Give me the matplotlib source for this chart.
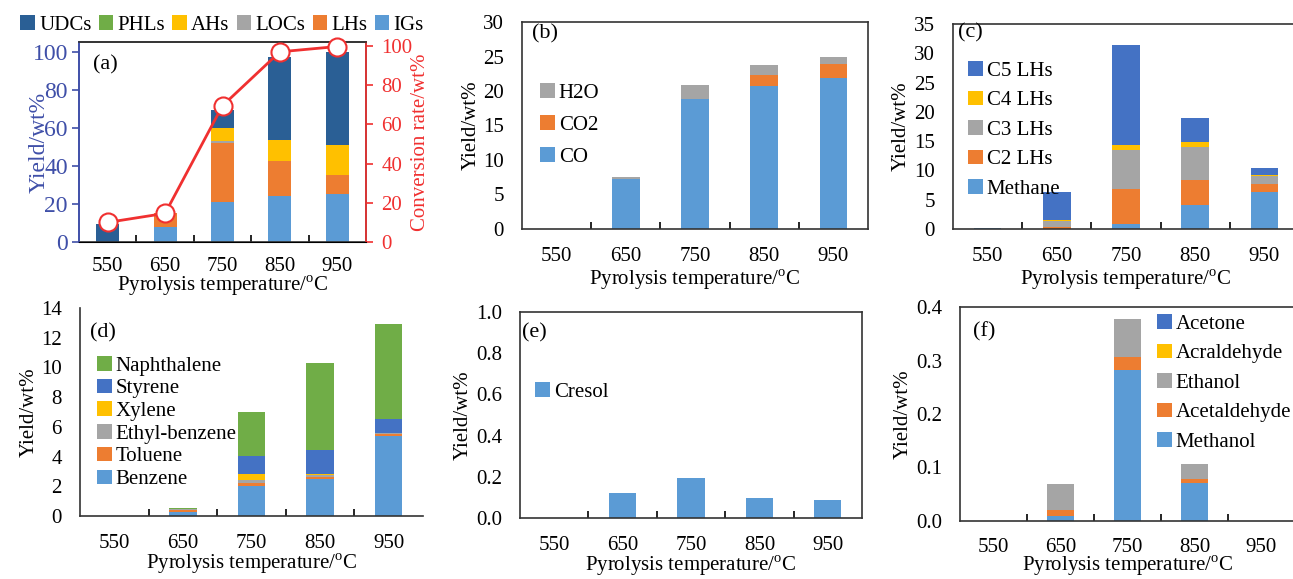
import numpy as np
import matplotlib
matplotlib.use("Agg")
import matplotlib.pyplot as plt

plt.rcParams['font.family'] = ['Liberation Serif', 'DejaVu Serif']
plt.rcParams['mathtext.fontset'] = 'stix'

temps = ['550', '650', '750', '850', '950']

# (a) product distribution + conversion
a_igs = [0, 8, 21, 24, 25]
a_lhs = [0, 7, 31, 18.5, 10]
a_locs = [0, 0, 1, 0, 0]
a_ahs = [0, 0, 7, 11, 16]
a_phls = [0, 0, 0, 0, 0]
a_udcs = [9.5, 0, 9.5, 43.5, 48.5]
conversion = [10, 14.6, 69.5, 97, 99.7]

# (b) inorganic gases
b_co = [0, 7.3, 18.9, 20.7, 21.9]
b_co2 = [0, 0, 0, 1.6, 2.0]
b_h2o = [0, 0.2, 2.0, 1.5, 1.0]

# (c) light hydrocarbons
c_methane = [0.2, 0, 0.8, 4.1, 6.3]
c_c2 = [0, 0.3, 6.1, 4.2, 1.4]
c_c3 = [0, 1.0, 6.6, 5.7, 1.3]
c_c4 = [0, 0.3, 0.9, 0.9, 0.3]
c_c5 = [0, 4.8, 17.1, 4.1, 1.1]

# (d) aromatics
d_benzene = [0, 0.3, 2.0, 2.5, 5.4]
d_toluene = [0, 0.1, 0.2, 0.15, 0.15]
d_ethylbenzene = [0, 0.1, 0.2, 0.1, 0.05]
d_xylene = [0, 0, 0.45, 0.05, 0]
d_styrene = [0, 0, 1.2, 1.65, 0.9]
d_naphthalene = [0, 0.05, 2.95, 5.85, 6.4]

# (e) phenols
e_cresol = [0, 0.12, 0.195, 0.097, 0.088]

# (f) light oxygenated compounds
f_methanol = [0, 0.01, 0.283, 0.071, 0]
f_acetaldehyde = [0, 0.01, 0.024, 0.007, 0]
f_ethanol = [0, 0.05, 0.071, 0.029, 0]
f_acraldehyde = [0, 0, 0, 0, 0]
f_acetone = [0, 0, 0, 0, 0]

BLUE = '#5B9BD5'
ORANGE = '#ED7D31'
GRAY = '#A5A5A5'
YELLOW = '#FFC000'
DBLUE = '#4472C4'
GREEN = '#70AD47'
NAVY = '#2A5F95'
AXBLUE = '#3F4FA8'
RED = '#F03030'

W, H = 1293, 579
fig = plt.figure(figsize=(W / 100, H / 100), dpi=100)
FS = 15
XLABEL = 'Pyrolysis temperature/$^\\mathregular{o}$C'


def px_axes(l, t, r, b):
    return fig.add_axes([l / W, 1 - b / H, (r - l) / W, (b - t) / H])


def stacked(ax, series, colors, labels):
    x = np.arange(len(temps))
    bottom = np.zeros(len(temps))
    handles = []
    for vals, c, lab in zip(series, colors, labels):
        h = ax.bar(x, vals, 0.4, bottom=bottom, color=c, linewidth=0, label=lab)
        bottom += np.array(vals)
        handles.append(h)
    return handles


def style(ax, ylim, yticks, letter, lx, ly, box=True, xpad=13, lpad=2):
    ax.set_xlim(-0.5, 4.5)
    ax.set_ylim(*ylim)
    ax.set_yticks(yticks)
    ax.set_xticks(range(5))
    ax.set_xticklabels(temps)
    ax.set_xticks([0.5, 1.5, 2.5, 3.5], minor=True)
    ax.tick_params(axis='x', which='major', length=0, labelsize=FS, pad=xpad)
    ax.tick_params(axis='x', which='minor', direction='in', length=5, width=1.2)
    ax.tick_params(axis='y', length=0, labelsize=FS, pad=13)
    for s in ax.spines.values():
        s.set_linewidth(1.2)
        s.set_color('#333333')
    if not box:
        ax.spines['top'].set_visible(False)
        ax.spines['right'].set_visible(False)
    ax.set_xlabel(XLABEL, fontsize=FS, labelpad=lpad)
    ax.set_ylabel('Yield/wt%', fontsize=FS, labelpad=2)
    ax.text(lx, ly, letter, transform=ax.transAxes, fontsize=FS + 1, va='center')


def legend(ax, handles, labels, x_px, y_px, spacing):
    ax.legend(handles, labels, loc='upper left',
              bbox_to_anchor=(x_px / W, 1 - y_px / H), bbox_transform=fig.transFigure,
              frameon=False, fontsize=FS, borderpad=0, borderaxespad=0,
              handlelength=0.7, handleheight=0.7, handletextpad=0.2,
              labelspacing=spacing)


# ---- (a)
ax = px_axes(79, 42, 366, 242)
h = stacked(ax, [a_igs, a_lhs, a_locs, a_ahs, a_phls, a_udcs],
            [BLUE, ORANGE, GRAY, YELLOW, GREEN, NAVY],
            ['IGs', 'LHs', 'LOCs', 'AHs', 'PHLs', 'UDCs'])
style(ax, (0, 105), [0, 20, 40, 60, 80, 100], '(a)', 0.05, 0.885, xpad=11)
ax.xaxis.labelpad = -1
ax.tick_params(axis='y', colors=AXBLUE, length=5, direction='out', width=1.2,
               pad=3, labelsize=17)
ax.spines['left'].set_color(AXBLUE)
ax.yaxis.label.set_color(AXBLUE)
ax.yaxis.label.set_fontsize(17)
ax.yaxis.labelpad = -12
ax2 = ax.twinx()
ax2.plot(range(5), conversion, color=RED, lw=2, marker='o', ms=13,
         mfc='white', mec=RED, mew=1.5, clip_on=False, zorder=5)
ax2.set_ylim(0, 102)
ax2.set_yticks([0, 20, 40, 60, 80, 100])
ax2.tick_params(axis='y', colors=RED, labelsize=FS, length=5, width=1.2, pad=6)
ax2.spines['right'].set_color(RED)
ax2.spines['right'].set_linewidth(1.2)
ax2.spines['left'].set_color(AXBLUE)
ax2.spines['left'].set_linewidth(1.2)
ax2.spines['top'].set_linewidth(1.2)
ax2.spines['top'].set_color('#333333')
ax2.set_ylabel('Conversion rate/wt%', color=RED, fontsize=FS, labelpad=-1)
fig.legend(h[::-1], ['UDCs', 'PHLs', 'AHs', 'LOCs', 'LHs', 'IGs'],
           loc='center', bbox_to_anchor=(222 / W, 1 - 25 / H), ncol=6,
           frameon=False, fontsize=FS, handlelength=0.7, handleheight=0.7,
           handletextpad=0.2, columnspacing=0.35, borderpad=0)

# ---- (b)
ax = px_axes(522, 22, 868, 229)
h = stacked(ax, [b_co, b_co2, b_h2o], [BLUE, ORANGE, GRAY], ['CO', 'CO2', 'H2O'])
style(ax, (0, 30), [0, 5, 10, 15, 20, 25, 30], '(b)', 0.03, 0.945)
legend(ax, h[::-1], ['H2O', 'CO2', 'CO'], 540, 83, 0.6)

# ---- (c)
ax = px_axes(953, 24, 1299, 229)
h = stacked(ax, [c_methane, c_c2, c_c3, c_c4, c_c5],
            [BLUE, ORANGE, GRAY, YELLOW, DBLUE],
            ['Methane', 'C2 LHs', 'C3 LHs', 'C4 LHs', 'C5 LHs'])
style(ax, (0, 35), [0, 5, 10, 15, 20, 25, 30, 35], '(c)', 0.015, 0.955)
legend(ax, h[::-1], ['C5 LHs', 'C4 LHs', 'C3 LHs', 'C2 LHs', 'Methane'], 968, 61, 0.48)

# ---- (d)
ax = px_axes(80, 308, 423, 516)
h = stacked(ax, [d_benzene, d_toluene, d_ethylbenzene, d_xylene, d_styrene, d_naphthalene],
            [BLUE, ORANGE, GRAY, YELLOW, DBLUE, GREEN],
            ['Benzene', 'Toluene', 'Ethyl-benzene', 'Xylene', 'Styrene', 'Naphthalene'])
style(ax, (0, 14), [0, 2, 4, 6, 8, 10, 12, 14], '(d)', 0.03, 0.88, box=False, lpad=0)
legend(ax, h[::-1], ['Naphthalene', 'Styrene', 'Xylene', 'Ethyl-benzene', 'Toluene', 'Benzene'],
       97, 356, 0.15)

# ---- (e)
ax = px_axes(520, 312, 862, 518)
h = stacked(ax, [e_cresol], [BLUE], ['Cresol'])
style(ax, (0, 1.0), [0, 0.2, 0.4, 0.6, 0.8, 1.0], '(e)', 0.005, 0.9, lpad=0)
ax.yaxis.set_major_formatter(matplotlib.ticker.FormatStrFormatter('%.1f'))
legend(ax, h, ['Cresol'], 535, 382, 0.3)

# ---- (f)
ax = px_axes(960, 307, 1295, 521)
h = stacked(ax, [f_methanol, f_acetaldehyde, f_ethanol, f_acraldehyde, f_acetone],
            [BLUE, ORANGE, GRAY, YELLOW, DBLUE],
            ['Methanol', 'Acetaldehyde', 'Ethanol', 'Acraldehyde', 'Acetone'])
style(ax, (0, 0.4), [0, 0.1, 0.2, 0.3, 0.4], '(f)', 0.04, 0.883, xpad=12, lpad=-1)
ax.yaxis.set_major_formatter(matplotlib.ticker.FormatStrFormatter('%.1f'))
legend(ax, h[::-1], ['Acetone', 'Acraldehyde', 'Ethanol', 'Acetaldehyde', 'Methanol'],
       1157, 314, 0.48)

fig.savefig('out.png', dpi=100)
